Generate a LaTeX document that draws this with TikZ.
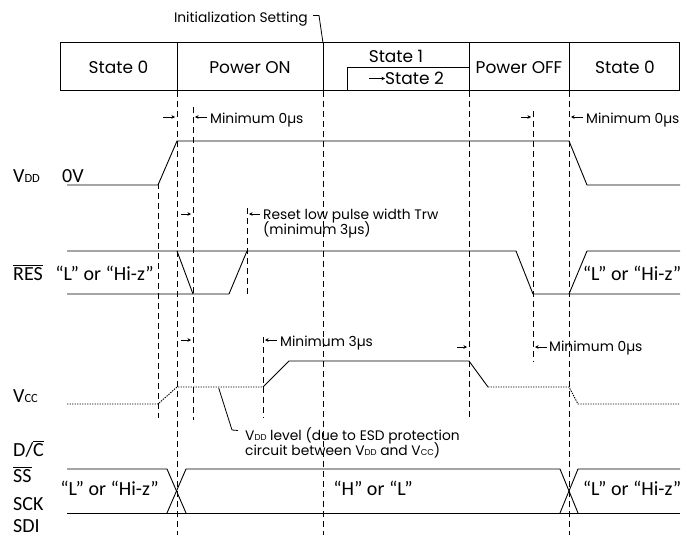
\documentclass[tikz,border=0pt]{standalone}
\usepackage{fontspec}
\setmainfont{Poppins}
\newfontfamily\labfont{Carlito}
\usetikzlibrary{arrows.meta}
\newcommand\ovl[1]{$\overline{\hbox{#1}}$}
\newcommand\lsub[1]{{\fontsize{12.5}{12.5}\selectfont #1}}
\newcommand\ssub[1]{{\fontsize{8.5}{8.5}\selectfont #1}}
\begin{document}
\begin{tikzpicture}[x=1pt,y=-1pt,
  sig/.style={line width=0.9pt},
  dotsig/.style={line width=0.9pt, dash pattern=on 1.4pt off 1.1pt},
  guide/.style={line width=0.8pt, dash pattern=on 6pt off 4pt},
  boxline/.style={line width=1pt},
  big/.style={font=\fontsize{17}{20}\selectfont, inner sep=0pt, anchor=base},
  small/.style={font=\fontsize{13.8}{16}\selectfont, inner sep=0pt, anchor=base west},
  lab/.style={font=\labfont\fontsize{20}{22}\selectfont, inner sep=0pt, anchor=base west},
  labc/.style={font=\labfont\fontsize{20}{22}\selectfont, inner sep=0pt, anchor=base},
  tick/.style={-{Stealth[length=3.5pt,width=3.5pt]}, line width=0.7pt},
  leader/.style={line width=0.8pt}
]
\useasboundingbox (0,0) rectangle (691,535);

% state box
\draw[boxline] (60,43) rectangle (679,91);
\foreach \x in {177,323,469,569} \draw[boxline] (\x,43) -- (\x,91);
\draw[boxline] (347,91) -- (347,67.5) -- (469,67.5);

\node[big] (s0a) at (118.5,73.5) {State 0};
\node[big] (pon) at (250,73.5) {Power ON};
\node[big] (s1) at (396,62.5) {State 1};
\node[big, anchor=base west] (s2) at (385,84.5) {State 2};
\coordinate (s2tail) at (369,78.5);
\draw[tick] (s2tail) -- (s2.west |- s2tail);
\node[big] (poff) at (519,73.5) {Power OFF};
\node[big] (s0b) at (625,73.5) {State 0};

% initialization setting
\node[small, anchor=base east] (init) at (308,23) {Initialization Setting};
\coordinate (initA) at (313,15.5);
\coordinate (initB) at (319,15.5);
\coordinate (initC) at (323,43);
\draw[leader] (initA) -- (initB) -- (initC);

% dashed guides
\draw[guide] (158,183) -- (158,418);
\draw[guide] (177,91) -- (177,535);
\draw[guide] (193,107) -- (193,420);
\draw[guide] (247,208) -- (247,294);
\draw[guide] (263,337) -- (263,418);
\draw[guide] (323,91) -- (323,535);
\draw[guide] (469,91) -- (469,418);
\draw[guide] (533,111) -- (533,362);
\draw[guide] (569,91) -- (569,535);

% labels
\node[lab] (vdd) at (13,182) {V\lsub{DD}};
\node[lab] (zero) at (62,182) {0V};
\node[lab] (res) at (13,280) {\ovl{RES}};
\node[labc] (resL) at (104.5,280) {“L” or “Hi-z”};
\node[labc] (resR) at (632,280) {“L” or “Hi-z”};
\node[lab] (vcc) at (13,402) {V\lsub{CC}};
\node[lab] (dc) at (13,456) {D/\ovl{C}};
\node[lab] (ss) at (13,482) {\ovl{SS}};
\node[lab] (sck) at (13,510) {SCK};
\node[lab] (sdi) at (13,532.5) {SDI};
\node[labc] (busL) at (109.5,495) {“L” or “Hi-z”};
\node[labc] (busM) at (373,495) {“H” or “L”};
\node[labc] (busR) at (632,495) {“L” or “Hi-z”};

% VDD
\draw[sig] (67,185) -- (158,185) -- (177,141) -- (569,141) -- (587,185) -- (680,185);
% RES
\draw[sig] (67,251) -- (516,251) -- (533,294) -- (680,294);
\draw[sig] (67,294) -- (229,294) -- (247,251);
\draw[sig] (177,251) -- (193,294);
\draw[sig] (569,294) -- (587,251) -- (680,251);
% VCC
\draw[dotsig] (67,404) -- (158,404) -- (177,387) -- (263,387);
\draw[sig] (263,387) -- (289,361) -- (469,361) -- (488,387);
\draw[dotsig] (488,387) -- (569,387) -- (578,404) -- (680,404);
% bus
\draw[sig] (67,513) -- (680,513);
\draw[sig] (67,469) -- (167,469) -- (186,513);
\draw[sig] (167,513) -- (186,469) -- (560,469) -- (578,513);
\draw[sig] (560,513) -- (578,469) -- (680,469);

% timing annotations
\coordinate (a1s) at (163,117); \coordinate (a1e) at (175,117);
\draw[tick] (a1s) -- (a1e);
\coordinate (a2s) at (207,117); \coordinate (a2e) at (195,117);
\draw[tick] (a2s) -- (a2e);
\node[small] (m1) at (210,123) {Minimum 0µs};

\coordinate (a3s) at (521,117); \coordinate (a3e) at (531,117);
\draw[tick] (a3s) -- (a3e);
\coordinate (a4s) at (583,117); \coordinate (a4e) at (571,117);
\draw[tick] (a4s) -- (a4e);
\node[small] (m2) at (586,123) {Minimum 0µs};

\coordinate (a5s) at (181,214); \coordinate (a5e) at (191,214);
\draw[tick] (a5s) -- (a5e);
\coordinate (a6s) at (260,214); \coordinate (a6e) at (249,214);
\draw[tick] (a6s) -- (a6e);
\node[small] (rst1) at (263,219) {Reset low pulse width Trw};
\node[small] (rst2) at (263,234) {(minimum 3µs)};

\coordinate (a7s) at (181,340); \coordinate (a7e) at (191,340);
\draw[tick] (a7s) -- (a7e);
\coordinate (a8s) at (277,340); \coordinate (a8e) at (265,340);
\draw[tick] (a8s) -- (a8e);
\node[small] (m3) at (280,346.5) {Minimum 3µs};

\coordinate (a9s) at (457,347); \coordinate (a9e) at (467,347);
\draw[tick] (a9s) -- (a9e);
\coordinate (a10s) at (547,347); \coordinate (a10e) at (535,347);
\draw[tick] (a10s) -- (a10e);
\node[small] (m4) at (549,351.5) {Minimum 0µs};

% VDD level note
\coordinate (vlA) at (218.7,388);
\coordinate (vlB) at (232,430);
\coordinate (vlC) at (238,430.5);
\draw[leader] (vlA) -- (vlB) -- (vlC);
\node[small] (vl1) at (245,440) {V\ssub{DD} level (due to ESD protection};
\node[small] (vl2) at (245,455) {circuit between V\ssub{DD} and V\ssub{CC})};
\end{tikzpicture}
\end{document}
